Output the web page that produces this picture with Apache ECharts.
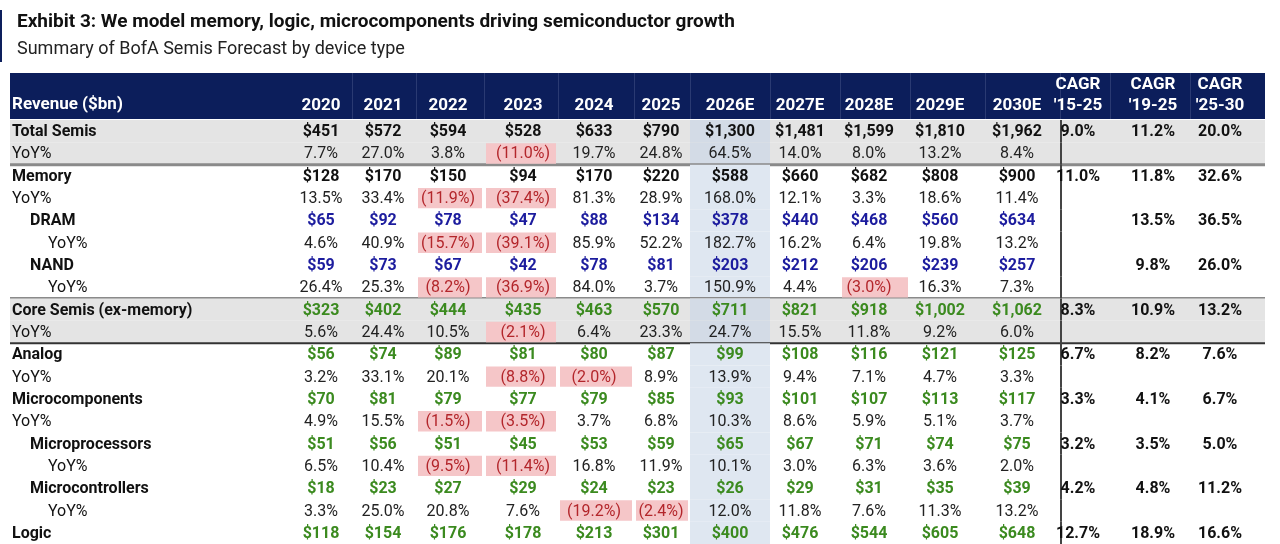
<!DOCTYPE html>
<html><head><meta charset="utf-8">
<script src="https://cdn.jsdelivr.net/npm/echarts@6/dist/echarts.min.js"></script>
<style>html,body{margin:0;padding:0;background:#fff}#c{width:1280px;height:544px}</style>
</head><body><div id="c"></div>
<script>
const title = 'Exhibit 3: We model memory, logic, microcomponents driving semiconductor growth';
const subtitle = 'Summary of BofA Semis Forecast by device type';
const headerLabels = ['2020','2021','2022','2023','2024','2025','2026E','2027E','2028E','2029E','2030E',"CAGR\n'15-25","CAGR\n'19-25","CAGR\n'25-30"];
const rowLabels = ['Total Semis','YoY%','Memory','YoY%','DRAM','YoY%','NAND','YoY%','Core Semis (ex-memory)','YoY%','Analog','YoY%','Microcomponents','YoY%','Microprocessors','YoY%','Microcontrollers','YoY%','Logic'];
const rowKinds = ['black','yoy','black','yoy','blue','yoy2','blue','yoy2','green','yoy','green','yoy','green','yoy','green2','yoy2','green2','yoy2','green'];
const totalSemis = ['$451','$572','$594','$528','$633','$790','$1,300','$1,481','$1,599','$1,810','$1,962','9.0%','11.2%','20.0%'];
const totalYoY = ['7.7%','27.0%','3.8%','(11.0%)','19.7%','24.8%','64.5%','14.0%','8.0%','13.2%','8.4%','','',''];
const memory = ['$128','$170','$150','$94','$170','$220','$588','$660','$682','$808','$900','11.0%','11.8%','32.6%'];
const memoryYoY = ['13.5%','33.4%','(11.9%)','(37.4%)','81.3%','28.9%','168.0%','12.1%','3.3%','18.6%','11.4%','','',''];
const dram = ['$65','$92','$78','$47','$88','$134','$378','$440','$468','$560','$634','','13.5%','36.5%'];
const dramYoY = ['4.6%','40.9%','(15.7%)','(39.1%)','85.9%','52.2%','182.7%','16.2%','6.4%','19.8%','13.2%','','',''];
const nand = ['$59','$73','$67','$42','$78','$81','$203','$212','$206','$239','$257','','9.8%','26.0%'];
const nandYoY = ['26.4%','25.3%','(8.2%)','(36.9%)','84.0%','3.7%','150.9%','4.4%','(3.0%)','16.3%','7.3%','','',''];
const core = ['$323','$402','$444','$435','$463','$570','$711','$821','$918','$1,002','$1,062','8.3%','10.9%','13.2%'];
const coreYoY = ['5.6%','24.4%','10.5%','(2.1%)','6.4%','23.3%','24.7%','15.5%','11.8%','9.2%','6.0%','','',''];
const analog = ['$56','$74','$89','$81','$80','$87','$99','$108','$116','$121','$125','6.7%','8.2%','7.6%'];
const analogYoY = ['3.2%','33.1%','20.1%','(8.8%)','(2.0%)','8.9%','13.9%','9.4%','7.1%','4.7%','3.3%','','',''];
const micro = ['$70','$81','$79','$77','$79','$85','$93','$101','$107','$113','$117','3.3%','4.1%','6.7%'];
const microYoY = ['4.9%','15.5%','(1.5%)','(3.5%)','3.7%','6.8%','10.3%','8.6%','5.9%','5.1%','3.7%','','',''];
const mpu = ['$51','$56','$51','$45','$53','$59','$65','$67','$71','$74','$75','3.2%','3.5%','5.0%'];
const mpuYoY = ['6.5%','10.4%','(9.5%)','(11.4%)','16.8%','11.9%','10.1%','3.0%','6.3%','3.6%','2.0%','','',''];
const mcu = ['$18','$23','$27','$29','$24','$23','$26','$29','$31','$35','$39','4.2%','4.8%','11.2%'];
const mcuYoY = ['3.3%','25.0%','20.8%','7.6%','(19.2%)','(2.4%)','12.0%','11.8%','7.6%','11.3%','13.2%','','',''];
const logic = ['$118','$154','$176','$178','$213','$301','$400','$476','$544','$605','$648','12.7%','18.9%','16.6%'];
const tableRows = [totalSemis,totalYoY,memory,memoryYoY,dram,dramYoY,nand,nandYoY,core,coreYoY,analog,analogYoY,micro,microYoY,mpu,mpuYoY,mcu,mcuYoY,logic];

// layout (pixel geometry, not data)
const colCenters = [321,383,448,523,594,661,730,800,869,940,1017,1078,1153,1220];
const colEdges = [290,352,416,484,558,634,690,770,840,910,985,1060,1110,1190,1265];
const FONT = '"Liberation Sans Narrow","Roboto","Noto Sans",sans-serif';
const colors = {black:'#111',blue:'#1c1c9e',green:'#3b8a1f',green2:'#3b8a1f',yoy:'#222',yoy2:'#222'};
const greyRows = [0,1,8,9];

const cells = [];
tableRows.forEach((r,ri)=>r.forEach((v,ci)=>{ if(v!=='') cells.push([ci,ri,v]); }));
const labelCells = rowLabels.map((l,i)=>[0,i,l]);
const bands = rowLabels.map((l,i)=>[0,i]);

const chart = echarts.init(document.getElementById('c'));
function rowH(api){ return api.size([0,1])[1]; }
chart.setOption({
  animation:false,
  title:[{text:title,left:12,top:8,textStyle:{fontFamily:FONT,fontSize:19,fontWeight:'bold',color:'#111'}},
         {text:subtitle,left:12,top:35,textStyle:{fontFamily:FONT,fontSize:18,fontWeight:'normal',color:'#222'}}],
  graphic:[
    {type:'rect',shape:{x:0,y:10,width:2,height:52},style:{fill:'#0d1f5c'}},
    {type:'rect',shape:{x:10,y:73,width:1255,height:46},style:{fill:'#0c1e5b'},z:-1},
    {type:'text',left:12,top:96,style:{text:'Revenue ($bn)',fill:'#fff',font:'bold 17px '+FONT}}
  ].concat(colEdges.slice(1,-1).map(x=>({type:'rect',shape:{x:x,y:73,width:1,height:46},style:{fill:'#2a3a72'}})))
   .concat(headerLabels.map((h,i)=>({type:'text',x:colCenters[i],y:116,style:{text:h,fill:'#fff',font:'bold 17px '+FONT,align:'center',verticalAlign:'bottom',lineHeight:21}}))),
  grid:{left:0,top:120,width:1280,height:429},
  xAxis:{type:'value',min:0,max:1280,show:false},
  yAxis:{type:'category',data:rowLabels,inverse:true,show:false},
  series:[
    {type:'custom',data:bands,z:1,renderItem:(p,api)=>{
      const ri=api.value(1); const c=api.coord([0,ri]); const h=rowH(api); const y=c[1]-h/2;
      const ch=[];
      if(greyRows.includes(ri)) ch.push({type:'rect',shape:{x:10,y:y,width:1255,height:h},style:{fill:'#e4e4e4'}});
      ch.push({type:'rect',shape:{x:colEdges[6],y:y,width:colEdges[7]-colEdges[6],height:h},style:{fill:greyRows.includes(ri)?'#d3dbe6':'#dfe7f1'}});
      if(ri===1||ri===7) ch.push({type:'rect',shape:{x:10,y:y+h-1.5,width:1255,height:3},style:{fill:'#8a8a8a'}});
      if(ri===9) ch.push({type:'rect',shape:{x:10,y:y+h-1,width:1255,height:2},style:{fill:'#333'}});
      ch.push({type:'rect',shape:{x:1060,y:y,width:2,height:h},style:{fill:'#444'}});
      return {type:'group',children:ch};
    }},
    {type:'custom',data:cells,z:2,renderItem:(p,api)=>{
      const ci=api.value(0), ri=api.value(1), v=cells[p.dataIndex][2];
      const c=api.coord([colCenters[ci],ri]); const h=rowH(api);
      const kind=rowKinds[ri]; const isYoY=kind.startsWith('yoy');
      const ch=[];
      if(v.startsWith('(')) ch.push({type:'rect',shape:{x:colEdges[ci]+2,y:c[1]-h/2+1,width:colEdges[ci+1]-colEdges[ci]-4,height:h-2},style:{fill:'#f5c6c8'}});
      let col = isYoY ? (v.startsWith('(')?'#b3262b':'#222') : colors[kind];
      if(ci>=11) col = '#111';
      ch.push({type:'text',x:c[0],y:c[1]+1,style:{text:v,fill:col,align:'center',verticalAlign:'middle',font:(isYoY?'':'bold ')+'16px '+FONT}});
      return {type:'group',children:ch};
    }},
    {type:'custom',data:labelCells,z:2,renderItem:(p,api)=>{
      const ri=api.value(1); const c=api.coord([0,ri]); const kind=rowKinds[ri];
      const isYoY=kind.startsWith('yoy');
      const x = kind==='blue'||kind==='green2'?30:(kind==='yoy2'?48:12);
      return {type:'text',x:x,y:c[1]+1,style:{text:rowLabels[ri],fill:'#111',verticalAlign:'middle',font:(isYoY?'':'bold ')+'16px '+FONT}};
    }}
  ]
});
</script></body></html>
